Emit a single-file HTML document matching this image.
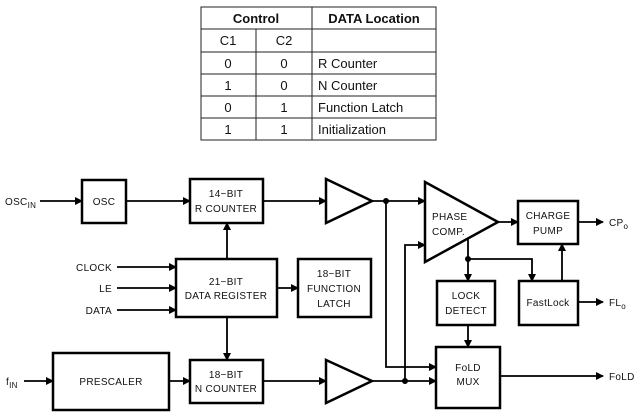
<!DOCTYPE html>
<html><head><meta charset="utf-8"><style>
html,body{margin:0;padding:0;background:#fff;width:640px;height:416px;overflow:hidden}
svg{display:block}
.t{font-family:"Liberation Sans",sans-serif;font-size:13px;fill:#111}
.d{font-family:"Liberation Sans",sans-serif;font-size:10px;letter-spacing:0.3px;fill:#111}
</style></head><body>
<svg width="640" height="416" viewBox="0 0 640 416" xmlns="http://www.w3.org/2000/svg">
<defs><marker id="a" markerWidth="8" markerHeight="8" refX="7" refY="4" orient="auto" markerUnits="userSpaceOnUse"><path d="M0,0 L8,4 L0,8 z" fill="#000"/></marker></defs>
<g stroke="#222" stroke-width="1" fill="none">
<rect x="201" y="7" width="235" height="133"/>
<line x1="201" y1="29" x2="436" y2="29"/><line x1="201" y1="52" x2="436" y2="52"/>
<line x1="201" y1="74" x2="436" y2="74"/><line x1="201" y1="96" x2="436" y2="96"/>
<line x1="201" y1="118" x2="436" y2="118"/>
<line x1="312" y1="7" x2="312" y2="140"/><line x1="256" y1="29" x2="256" y2="140"/>
</g>
<g class="t">
<text x="256" y="23" text-anchor="middle" font-weight="bold">Control</text>
<text x="374" y="23" text-anchor="middle" font-weight="bold">DATA Location</text>
<text x="228" y="45" text-anchor="middle">C1</text><text x="284" y="45" text-anchor="middle">C2</text>
<text x="228" y="68" text-anchor="middle">0</text><text x="284" y="68" text-anchor="middle">0</text><text x="318" y="68">R Counter</text>
<text x="228" y="90" text-anchor="middle">1</text><text x="284" y="90" text-anchor="middle">0</text><text x="318" y="90">N Counter</text>
<text x="228" y="112" text-anchor="middle">0</text><text x="284" y="112" text-anchor="middle">1</text><text x="318" y="112">Function Latch</text>
<text x="228" y="134" text-anchor="middle">1</text><text x="284" y="134" text-anchor="middle">1</text><text x="318" y="134">Initialization</text>
</g>
<g stroke="#000" stroke-width="2.5" fill="none">
<rect x="82" y="180" width="44" height="43"/>
<rect x="190" y="179" width="73" height="44"/>
<rect x="176" y="259" width="101" height="58"/>
<rect x="298" y="259" width="73" height="58"/>
<rect x="53" y="353" width="116" height="57"/>
<rect x="190" y="360" width="73" height="43"/>
<rect x="518" y="201" width="60" height="43"/>
<rect x="437" y="281" width="58" height="44"/>
<rect x="519" y="281" width="59" height="44"/>
<rect x="436" y="347" width="64" height="61"/>
<polygon points="326,179 372,201 326,223"/>
<polygon points="326,360 372,381 326,403"/>
<polygon points="425,182 498,222 425,262"/>
</g>
<g stroke="#000" stroke-width="1.8" fill="none">
<line x1="40" y1="201" x2="82" y2="201" marker-end="url(#a)"/>
<line x1="126" y1="201" x2="190" y2="201" marker-end="url(#a)"/>
<line x1="263" y1="201" x2="326" y2="201" marker-end="url(#a)"/>
<line x1="117" y1="267" x2="176" y2="267" marker-end="url(#a)"/>
<line x1="117" y1="288" x2="176" y2="288" marker-end="url(#a)"/>
<line x1="117" y1="310" x2="176" y2="310" marker-end="url(#a)"/>
<line x1="227" y1="259" x2="227" y2="223" marker-end="url(#a)"/>
<line x1="227" y1="317" x2="227" y2="360" marker-end="url(#a)"/>
<line x1="277" y1="288" x2="298" y2="288" marker-end="url(#a)"/>
<line x1="24" y1="381" x2="53" y2="381" marker-end="url(#a)"/>
<line x1="169" y1="381" x2="190" y2="381" marker-end="url(#a)"/>
<line x1="263" y1="381" x2="326" y2="381" marker-end="url(#a)"/>
<line x1="372" y1="201" x2="425" y2="201" marker-end="url(#a)"/>
<polyline points="386,201 386,367 436,367" marker-end="url(#a)"/>
<line x1="372" y1="381" x2="436" y2="381" marker-end="url(#a)"/>
<polyline points="405,381 405,245 425,245" marker-end="url(#a)"/>
<line x1="498" y1="222" x2="518" y2="222" marker-end="url(#a)"/>
<line x1="578" y1="222" x2="603" y2="222" marker-end="url(#a)"/>
<line x1="468" y1="238" x2="468" y2="281" marker-end="url(#a)"/>
<polyline points="468,259 532,259 532,281" marker-end="url(#a)"/>
<line x1="562" y1="281" x2="562" y2="244" marker-end="url(#a)"/>
<line x1="578" y1="302" x2="603" y2="302" marker-end="url(#a)"/>
<line x1="468" y1="325" x2="468" y2="347" marker-end="url(#a)"/>
<line x1="500" y1="376" x2="603" y2="376" marker-end="url(#a)"/>
</g>
<g fill="#000"><circle cx="386" cy="201" r="3"/><circle cx="405" cy="381" r="3"/><circle cx="468" cy="259" r="3"/></g>
<g class="d">
<text x="5" y="205">OSC<tspan font-size="8" dy="3">IN</tspan></text>
<text x="104" y="205" text-anchor="middle">OSC</text>
<text x="226" y="197" text-anchor="middle">14−BIT</text>
<text x="226" y="212" text-anchor="middle">R COUNTER</text>
<text x="112" y="271" text-anchor="end">CLOCK</text>
<text x="112" y="292" text-anchor="end">LE</text>
<text x="112" y="314" text-anchor="end">DATA</text>
<text x="226" y="285" text-anchor="middle">21−BIT</text>
<text x="226" y="299" text-anchor="middle">DATA REGISTER</text>
<text x="334" y="277" text-anchor="middle">18−BIT</text>
<text x="334" y="292" text-anchor="middle">FUNCTION</text>
<text x="334" y="307" text-anchor="middle">LATCH</text>
<text x="6" y="385">f<tspan font-size="8" dy="3">IN</tspan></text>
<text x="111" y="385" text-anchor="middle">PRESCALER</text>
<text x="226" y="378" text-anchor="middle">18−BIT</text>
<text x="226" y="392" text-anchor="middle">N COUNTER</text>
<text x="432" y="220">PHASE</text>
<text x="432" y="235">COMP.</text>
<text x="548" y="219" text-anchor="middle">CHARGE</text>
<text x="548" y="234" text-anchor="middle">PUMP</text>
<text x="609" y="226">CP<tspan font-size="8" dy="3">o</tspan></text>
<text x="466" y="299" text-anchor="middle">LOCK</text>
<text x="466" y="314" text-anchor="middle">DETECT</text>
<text x="548" y="306" text-anchor="middle">FastLock</text>
<text x="609" y="306">FL<tspan font-size="8" dy="3">o</tspan></text>
<text x="468" y="371" text-anchor="middle">FoLD</text>
<text x="468" y="385" text-anchor="middle">MUX</text>
<text x="609" y="380">FoLD</text>
</g>
</svg>
</body></html>
